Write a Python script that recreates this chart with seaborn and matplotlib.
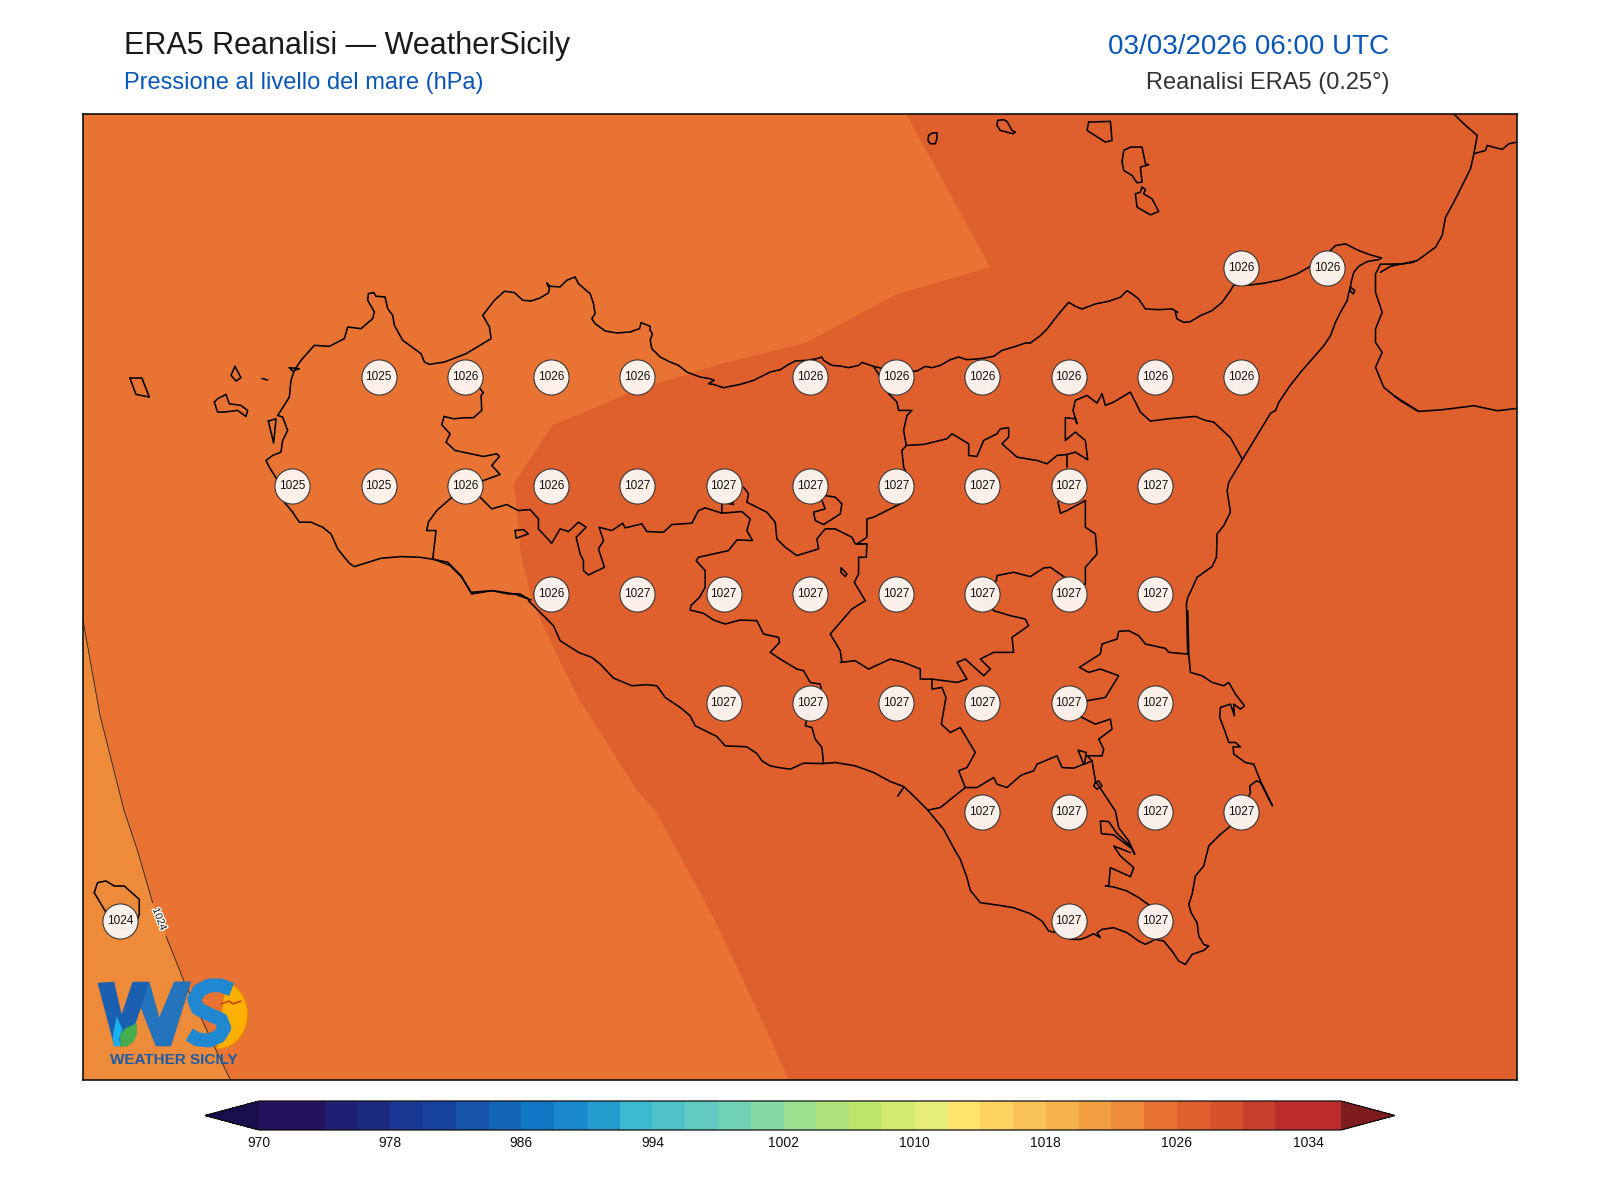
import numpy as np
import matplotlib
matplotlib.use("Agg")
import matplotlib.pyplot as plt
from matplotlib.colors import ListedColormap, BoundaryNorm
from matplotlib.cm import ScalarMappable
import matplotlib.patheffects as pe
import seaborn as sns
import pandas as pd

# ---------- pressure bands (hPa) and their colours ----------
levels = list(range(970, 1038, 2))
band_colors = ["#24125c", "#24125c", "#1f1f73", "#1c2a80", "#1a3794", "#17439f", "#1554a9", "#1365b5",
               "#0f77c5", "#1a88cc", "#239bcd", "#3bb9d1", "#4fc2c9", "#60cbbe", "#70d3b5", "#84d9a3",
               "#9be08f", "#aee37c", "#bde76c", "#d2eb6f", "#e4ee78", "#fee46a", "#fcd35f", "#f8c358",
               "#f6b24b", "#f3a043", "#ee8b3b", "#e87332", "#e0602d", "#d5522b", "#c93e2c", "#bb2c2b",
               "#bb2c2b"]
under_color = "#1a0d4c"
over_color = "#7e1c1e"
cbar_ticks = [970, 978, 986, 994, 1002, 1010, 1018, 1026, 1034]

# ---------- station labels: latitude rows, longitudes, values ----------
row_lats = [38.25, 38.0, 37.75, 37.5, 37.25, 37.0, 36.75, 36.75]
row_lons = [[15.25, 15.5],
            [12.75, 13.0, 13.25, 13.5, 14.0, 14.25, 14.5, 14.75, 15.0, 15.25],
            [12.5, 12.75, 13.0, 13.25, 13.5, 13.75, 14.0, 14.25, 14.5, 14.75, 15.0],
            [13.25, 13.5, 13.75, 14.0, 14.25, 14.5, 14.75, 15.0],
            [13.75, 14.0, 14.25, 14.5, 14.75, 15.0],
            [14.5, 14.75, 15.0, 15.25],
            [14.75, 15.0],
            [12.0]]
row_vals = [[1026, 1026],
            [1025, 1026, 1026, 1026, 1026, 1026, 1026, 1026, 1026, 1026],
            [1025, 1025, 1026, 1026, 1027, 1027, 1027, 1027, 1027, 1027, 1027],
            [1026, 1027, 1027, 1027, 1027, 1027, 1027, 1027],
            [1027, 1027, 1027, 1027, 1027, 1027],
            [1027, 1027, 1027, 1027],
            [1027, 1027],
            [1024]]

LON0, LON1, LAT0, LAT1 = 11.893, 16.05, 36.385, 38.603
PX_L, PX_R, PX_T, PX_B = 83, 1517, 114, 1080


def sheet(ox, oy, pts, k=3.0):
    """Traced map sheet units -> lon, lat."""
    a = np.array(pts, float)
    px = ox + a[:, 0] / k
    py = oy + a[:, 1] / k
    return 12.0 + (px - 120) / 344.8, 36.75 + (920 - py) / 435.0


# ---------- isobar-band boundaries ----------
iso1026 = [(906, 114), (990, 267), (896, 294), (807, 342), (723, 363), (638, 389), (552, 425), (514, 483),
           (521, 556), (533, 603), (555, 650), (578, 697), (638, 791), (656, 811), (714, 918), (765, 1026),
           (789, 1080)]
iso1024_a = [(83, 619), (100, 714), (124, 809), (137.7, 850), (152.7, 901.7)]
iso1024_b = [(166, 935), (184, 980), (218, 1053), (231, 1080)]

# ---------- coasts and borders ----------
paths = [
    # north coast, Messina westwards
    (1030, 112, [(1053, 437), (1020, 428), (985, 415), (945, 395), (915, 400), (895, 420), (840, 462), (800, 485),
                 (750, 503), (700, 513), (660, 518), (610, 518), (600, 535), (575, 570), (545, 595), (510, 610),
                 (480, 628), (460, 630), (440, 620), (435, 600), (442, 600), (425, 590), (385, 592), (345, 590),
                 (325, 560), (305, 545), (290, 535), (270, 555), (235, 567), (195, 575), (155, 590), (135, 582),
                 (115, 570), (85, 605), (50, 650), (30, 670), (0, 692)]),
    (780, 330, [(750, 38), (735, 38), (700, 50), (665, 60), (640, 78), (600, 85), (560, 88), (535, 80), (510, 88), (480, 105),
                (455, 112), (435, 108), (410, 122), (350, 125), (280, 108), (245, 96), (235, 105), (205, 112), (180, 107),
                (155, 105), (130, 90), (125, 80), (110, 85), (80, 90), (45, 92), (20, 105), (0, 118)]),
    (420, 330, [(1080, 118), (1050, 125), (1000, 150), (960, 162), (910, 172), (880, 162), (865, 160), (882, 150),
                (870, 145), (840, 140), (800, 125), (775, 105), (750, 95), (720, 80), (695, 55), (690, 30), (697, 10),
                (690, 0)]),
    (480, 260, [(153, 122), (180, 113), (205, 98), (208, 85), (200, 68), (210, 78), (240, 80), (260, 60), (285, 50),
                (295, 70), (320, 92), (330, 100), (340, 130), (345, 160), (335, 175), (345, 190), (375, 212),
                (410, 218), (450, 215), (478, 205), (483, 187), (510, 198), (510, 210)]),
    # west and south-west coast
    (81, 260, [(1350, 122), (1325, 120), (1300, 97), (1270, 93), (1240, 120), (1205, 165), (1225, 200), (1230, 235),
               (1155, 280), (1090, 305), (1045, 312), (1030, 305), (1020, 280), (965, 240), (940, 195), (935, 165),
               (920, 145), (912, 110), (885, 108), (878, 97), (862, 100), (860, 120), (880, 155), (875, 175),
               (840, 205), (800, 200), (790, 235), (745, 258), (700, 255), (660, 300), (640, 330), (630, 360),
               (625, 410), (600, 450), (590, 465), (605, 470), (620, 510), (605, 540), (600, 575), (575, 585),
               (555, 600), (565, 620), (590, 660), (610, 725), (635, 755), (655, 785), (690, 785), (725, 800),
               (750, 820), (770, 865), (805, 908), (820, 918), (900, 893), (960, 888), (1017, 890), (1050, 895),
               (1100, 905), (1140, 945), (1170, 995), (1235, 990), (1300, 1000), (1350, 1018)]),
    (420, 330, [(40, 685), (90, 705), (125, 740), (155, 790), (215, 780), (265, 790), (300, 790), (325, 805)]),
    (500, 600, [(85, 0), (100, 15), (130, 45), (160, 75), (180, 120), (235, 155), (275, 170), (300, 190), (340, 232),
                (395, 255), (440, 252), (470, 255), (495, 290), (540, 320), (570, 345), (585, 375), (650, 407),
                (675, 435), (740, 438), (770, 458), (785, 480), (810, 495), (835, 500), (870, 505), (910, 487),
                (970, 488)]),
    # south and east coast, Gela to Messina
    (780, 610, [(130, 458), (165, 455), (225, 465), (280, 485), (330, 512), (370, 527), (400, 555), (440, 595),
                (490, 655), (525, 720), (540, 745), (560, 800), (570, 838), (600, 875), (650, 882), (700, 890),
                (750, 908), (785, 930), (805, 960), (830, 965), (870, 985), (900, 985), (915, 980), (940, 968),
                (960, 980), (950, 965), (965, 955), (1000, 950), (1040, 965), (1075, 990), (1095, 1000), (1125, 985),
                (1150, 990), (1175, 1020), (1195, 1050), (1215, 1060), (1235, 1030), (1270, 1018), (1285, 1005),
                (1270, 1000), (1255, 975), (1250, 935), (1232, 905), (1225, 880), (1235, 850), (1245, 795), (1270, 765),
                (1285, 705), (1320, 670), (1345, 650), (1385, 610), (1410, 545), (1408, 525), (1428, 510), (1440, 515),
                (1476, 585), (1440, 510), (1420, 460), (1395, 455), (1360, 430), (1358, 408), (1380, 408), (1365, 395),
                (1345, 395), (1335, 365), (1318, 320), (1320, 290), (1350, 280), (1362, 315), (1360, 280), (1380, 295),
                (1392, 285), (1365, 250), (1345, 215), (1330, 225), (1295, 215), (1265, 195), (1230, 185), (1225, 130),
                (1222, 0)]),
    (780, 330, [(1222, 970), (1218, 820), (1222, 800), (1232, 780), (1250, 740), (1295, 708), (1308, 680), (1310, 610),
                (1330, 585), (1350, 545), (1340, 480), (1345, 455), (1386, 387), (1419, 333), (1470, 249), (1485, 240)]),
    (1030, 112, [(735, 895), (745, 870), (775, 825), (810, 780), (845, 740), (880, 700), (900, 670), (915, 630),
                 (930, 600), (950, 565), (955, 540), (960, 525), (973, 535), (968, 545), (958, 535), (962, 510),
                 (970, 480), (985, 462), (1010, 448), (1045, 442), (1053, 437)]),
    # province borders
    (420, 330, [(135, 138), (180, 175), (190, 187), (183, 195), (185, 240), (160, 262), (135, 262), (100, 265),
                (72, 258), (65, 283), (90, 310), (78, 335), (105, 360), (190, 378), (230, 370), (238, 378), (215, 405),
                (240, 432), (190, 450), (135, 465)]),
    (420, 330, [(135, 465), (90, 505), (50, 540), (25, 575), (20, 600), (48, 600), (38, 685)]),
    (420, 330, [(135, 465), (180, 500), (215, 535), (260, 522), (295, 540), (330, 537), (355, 565), (355, 595),
                (395, 638), (420, 595), (445, 603), (475, 575), (498, 590), (468, 620), (480, 670), (490, 690),
                (490, 720), (505, 733), (553, 710), (535, 655), (550, 630), (537, 590), (575, 600), (608, 578),
                (615, 592), (665, 580), (680, 603), (730, 605), (755, 582), (815, 578), (835, 540), (855, 532),
                (905, 548), (965, 543), (990, 565), (980, 600), (997, 630), (950, 628), (925, 660), (835, 680),
                (828, 690), (855, 720), (855, 770), (838, 800), (812, 825), (810, 838), (850, 848), (880, 868),
                (915, 880), (960, 868), (1010, 870), (1030, 910), (1075, 920), (1078, 935), (1050, 965), (1080, 985),
                (1130, 1015), (1150, 1020)]),
    (420, 330, [(905, 548), (905, 515), (940, 522), (935, 505)]),
    (420, 330, [(970, 470), (985, 490), (980, 515), (1040, 545), (1065, 575), (1070, 625), (1095, 650), (1130, 675),
                (1195, 655), (1190, 625), (1215, 595), (1245, 595), (1295, 620), (1305, 640), (1340, 640)]),
    (780, 610, [(70, 180), (90, 215), (120, 220), (123, 235), (91, 278), (75, 345), (95, 350), (105, 385), (125, 410),
                (130, 458)]),
    (780, 330, [(280, 108), (300, 140), (325, 190), (350, 215), (355, 240), (395, 240), (380, 255), (370, 300),
                (378, 345), (365, 360), (370, 410), (375, 420), (370, 515), (340, 530), (280, 560), (260, 565),
                (260, 620), (230, 640), (260, 640), (258, 680), (235, 680), (235, 730), (222, 755), (255, 810),
                (215, 835), (150, 910), (180, 960), (185, 995)]),
    (780, 610, [(180, 155), (225, 150), (265, 175), (330, 145), (370, 155), (420, 175), (420, 205), (455, 205),
                (530, 215), (560, 205), (530, 155), (555, 145), (610, 195), (630, 175), (600, 145), (640, 125),
                (700, 125), (695, 80), (745, 45), (735, 25), (690, 15), (640, 0)]),
    (780, 610, [(455, 205), (455, 235), (485, 230), (497, 260), (483, 340), (510, 365), (540, 350), (585, 425),
                (560, 470), (535, 480), (555, 530), (480, 590), (445, 597)]),
    (780, 610, [(555, 530), (590, 530), (640, 500), (650, 520), (680, 530), (720, 495), (730, 490), (760, 480),
                (770, 460), (830, 435), (845, 470), (880, 472), (910, 460), (893, 418), (918, 425), (912, 460),
                (935, 450), (920, 435), (965, 435), (970, 415), (955, 385), (995, 355), (990, 325), (945, 340), (905, 320),
                (868, 278), (920, 270), (975, 260), (1015, 195), (960, 175), (925, 185), (897, 170), (960, 130),
                (965, 100), (1010, 85), (1015, 62), (1045, 60), (1075, 75), (1095, 100), (1155, 113), (1165, 125),
                (1222, 130)]),
    (780, 610, [(935, 450), (945, 510), (965, 540), (1005, 600), (1015, 650), (1045, 690), (1063, 730), (1050, 705),
                (1010, 668), (985, 632), (960, 630), (963, 668), (1000, 672), (1050, 710)]),
    (780, 610, [(1050, 725), (1000, 705), (1020, 735), (1060, 770), (1050, 797), (990, 770), (985, 825), (975, 825),
                (1000, 828), (1040, 840), (1075, 860), (1110, 885)]),
    (780, 610, [(945, 515), (955, 510), (965, 525), (950, 535), (940, 525), (945, 515)]),
    (780, 610, [(352, 556), (370, 530)]),
    (780, 330, [(378, 345), (430, 342), (500, 325), (515, 310), (565, 340), (565, 375), (590, 378), (610, 330),
                (650, 310), (660, 295), (685, 292), (685, 320), (665, 340), (710, 380), (770, 390), (800, 400),
                (830, 375), (860, 372), (860, 410)]),
    (780, 330, [(860, 372), (885, 365), (922, 388), (915, 330), (885, 305), (855, 330), (855, 262), (885, 265),
                (890, 280), (878, 240), (885, 210), (920, 195), (950, 218), (965, 190), (975, 225), (1000, 215),
                (1050, 185), (1080, 245), (1110, 272), (1165, 265), (1245, 258), (1275, 270), (1300, 275), (1350, 322),
                (1386, 387)]),
    (780, 330, [(868, 465), (833, 515), (840, 548), (860, 540), (915, 510), (915, 590), (945, 610), (950, 670),
                (915, 710), (915, 760), (868, 790), (860, 745), (810, 710), (790, 712), (750, 738), (700, 725),
                (650, 735), (648, 750), (608, 790), (640, 840)]),
    (780, 330, [(135, 495), (165, 500), (185, 520), (180, 550), (130, 582), (105, 570), (100, 545), (135, 535),
                (125, 510), (91, 465)]),
    (780, 330, [(183, 712), (200, 730), (195, 738), (182, 725), (183, 712)]),
    # Egadi, Stagnone, small islets
    (81, 260, [(147, 353), (183, 353), (205, 410), (165, 402), (147, 353)]),
    (81, 260, [(462, 318), (480, 352), (465, 362), (450, 345), (462, 318)]),
    (81, 260, [(400, 425), (410, 415), (435, 402), (445, 430), (480, 435), (500, 450), (495, 468), (470, 450),
               (430, 455), (410, 455), (400, 425)]),
    (81, 260, [(562, 482), (585, 475), (578, 548), (562, 482)]),
    (81, 260, [(625, 322), (655, 325), (635, 332), (625, 322)]),
    (81, 260, [(543, 354), (560, 359)]),
    (420, 330, [(285, 600), (310, 597), (325, 610), (288, 623), (285, 600)]),
    # Aeolian islands
    (1030, 112, [(275, 150), (280, 115), (300, 105), (335, 105), (345, 155), (355, 158), (330, 165), (335, 210), (320, 212),
                 (305, 190), (280, 175), (275, 150)]),
    (1030, 112, [(335, 225), (330, 240), (315, 245), (320, 285), (360, 308), (385, 298), (365, 260), (340, 245),
                 (345, 232), (335, 225)]),
    (1030, 112, [(175, 30), (240, 28), (245, 85), (225, 90), (170, 55), (175, 30)]),
    (890, 112, [(115, 70), (125, 63), (140, 62), (140, 80), (135, 95), (120, 95), (113, 85), (115, 70)]),
    (890, 112, [(322, 25), (340, 23), (350, 28), (365, 55), (375, 60), (368, 65), (330, 55), (320, 40), (322, 25)]),
    # Pantelleria
    (81, 850, [(40, 125), (50, 95), (75, 90), (100, 105), (130, 105), (175, 145), (175, 190), (160, 230), (100, 230),
               (70, 175), (40, 125)]),
    # Calabria
    (1380, 112, [(222, 8), (255, 40), (290, 70), (280, 125), (270, 170), (250, 210), (220, 270), (195, 315), (185, 370),
                 (165, 405), (110, 445), (65, 455), (30, 462), (0, 480)]),
    (1380, 112, [(280, 125), (315, 115), (320, 100), (365, 112), (385, 95), (410, 90)]),
    (1030, 112, [(1050, 456), (1035, 485), (1035, 540), (1055, 600), (1035, 650), (1035, 690), (1055, 720), (1035, 765),
                 (1060, 825), (1110, 865), (1160, 895)]),
    (1030, 112, [(1050, 456), (1115, 455), (1150, 450)]),
    (1380, 112, [(40, 850), (115, 897), (185, 892), (280, 880), (350, 895), (410, 888)]),
]

# ---------- figure ----------
sns.set_theme(style="white")
plt.rcParams["font.family"] = ["Liberation Sans", "DejaVu Sans"]
fig = plt.figure(figsize=(16, 12), dpi=100, facecolor="white")
ax = fig.add_axes([PX_L / 1600, 1 - PX_B / 1200, (PX_R - PX_L) / 1600, (PX_B - PX_T) / 1200])
ax.set_xlim(LON0, LON1)
ax.set_ylim(LAT0, LAT1)
ax.set_xticks([])
ax.set_yticks([])
ax.grid(False)

palette = sns.color_palette(band_colors)
cmap = ListedColormap(palette)
cmap.set_under(under_color)
cmap.set_over(over_color)
norm = BoundaryNorm(levels, cmap.N)


def band(v):
    return cmap(norm(v))


ax.set_facecolor(band(1025))
lo, la = sheet(0, 0, iso1026, 1.0)
ax.fill(list(lo) + [LON1, LON1], list(la) + [LAT0, LAT1], color=band(1027), lw=0, zorder=1)
xa, ya = sheet(0, 0, iso1024_a, 1.0)
xb, yb = sheet(0, 0, iso1024_b, 1.0)
ax.fill(list(xa) + list(xb) + [LON0], list(ya) + list(yb) + [LAT0], color=band(1023), lw=0, zorder=1)
ax.plot(xa, ya, color="#222222", lw=0.6, zorder=2)
ax.plot(xb, yb, color="#222222", lw=0.6, zorder=2)
lx, ly = sheet(0, 0, [(159.7, 918)], 1.0)
ax.text(lx[0], ly[0], "1024", rotation=-69, ha="center", va="center", fontsize=7.5, color="#111111", zorder=3,
        rotation_mode="anchor", path_effects=[pe.withStroke(linewidth=2, foreground="white")])

for ox, oy, pts in paths:
    px, py = sheet(ox, oy, pts)
    ax.plot(px, py, color="black", lw=1.15, solid_joinstyle="round", zorder=4)

# pressure labels
stations = pd.DataFrame({
    "lon": [x for r in row_lons for x in r],
    "lat": [row_lats[i] for i, r in enumerate(row_lons) for _ in r],
    "hPa": [v for r in row_vals for v in r],
})
sns.scatterplot(data=stations, x="lon", y="lat", s=640, color="#fdf6f2", alpha=0.96, edgecolor="#333333",
                linewidth=0.8, ax=ax, zorder=5, legend=False)
for _, r in stations.iterrows():
    ax.text(r["lon"], r["lat"], f"{int(r['hPa'])}", ha="center", va="center", fontsize=8.5, color="#111111", zorder=6)
ax.set_xlabel("")
ax.set_ylabel("")

for s in ax.spines.values():
    s.set_visible(True)
    s.set_color("#111111")
    s.set_linewidth(1.2)
    s.set_zorder(10)

# logo
def lp(pts):
    return sheet(81, 850, pts)

sun = np.array([[410 + 90 * np.cos(t), 490 + 103 * np.sin(t)] for t in np.linspace(-1.3, 1.6, 30)])
x, y = lp(sun)
ax.fill(x, y, color="#fdb000", ec="#e58a00", lw=0.8, zorder=7)
x, y = lp([(50, 395), (100, 392), (122, 490), (155, 392), (205, 392), (235, 500), (280, 392), (330, 392), (270, 585),
           (225, 585), (180, 470), (140, 585), (100, 585)])
ax.fill(x, y, color="#1a5fb0", lw=0, zorder=7)
x, y = lp([(180, 470), (205, 392), (235, 500), (280, 392), (330, 392), (270, 585), (225, 585)])
ax.fill(x, y, color="#2374bd", lw=0, zorder=7)
x, y = lp([(107, 495), (125, 535), (115, 560), (118, 585), (100, 585), (95, 560)])
ax.fill(x, y, color="#18b0f0", lw=0, zorder=8)
x, y = lp([(118, 585), (118, 550), (135, 530), (168, 516), (168, 550), (155, 575), (135, 587)])
ax.fill(x, y, color="#45ad4e", lw=0, zorder=8)
x, y = lp([(452, 415), (420, 403), (385, 403), (355, 418), (340, 445), (350, 472), (385, 490), (420, 505), (430, 530),
           (415, 555), (385, 568), (350, 565), (325, 550)])
ax.plot(x, y, color="#1f88d0", lw=10, solid_capstyle="butt", solid_joinstyle="round", zorder=8)
x, y = lp([(420, 458), (445, 450), (455, 458), (480, 450)])
ax.plot(x, y, color="#c8431c", lw=1.2, zorder=9)
x, y = sheet(0, 0, [(174, 1059)], 1.0)
ax.text(x[0], y[0], "WEATHER SICILY", ha="center", va="center", fontsize=11, fontweight="bold", color="#1a5ca8",
        zorder=9)

# colour bar
cax = fig.add_axes([205 / 1600, 1 - 1130 / 1200, (1395 - 205) / 1600, 29 / 1200])
sm = ScalarMappable(norm=norm, cmap=cmap)
cb = fig.colorbar(sm, cax=cax, orientation="horizontal", extend="both", extendfrac=0.05, spacing="proportional",
                  ticks=cbar_ticks, drawedges=False)
cb.ax.minorticks_off()
cb.ax.tick_params(which="both", length=0, labelsize=10, pad=4, colors="#111111")
cb.outline.set_edgecolor("#111111")
cb.outline.set_linewidth(0.9)

# titles
fig.text(123.5 / 1600, 1 - 46 / 1200, "ERA5 Reanalisi — WeatherSicily", fontsize=22, color="#1a1a1a", va="center")
fig.text(123.5 / 1600, 1 - 82.5 / 1200, "Pressione al livello del mare (hPa)", fontsize=17, color="#0a56b8", va="center")
fig.text(1389 / 1600, 1 - 47 / 1200, "03/03/2026 06:00 UTC", fontsize=20, color="#0a56b8", va="center", ha="right")
fig.text(1389 / 1600, 1 - 82.5 / 1200, "Reanalisi ERA5 (0.25°)", fontsize=17, color="#333333", va="center", ha="right")

fig.savefig("out.png", dpi=100)
